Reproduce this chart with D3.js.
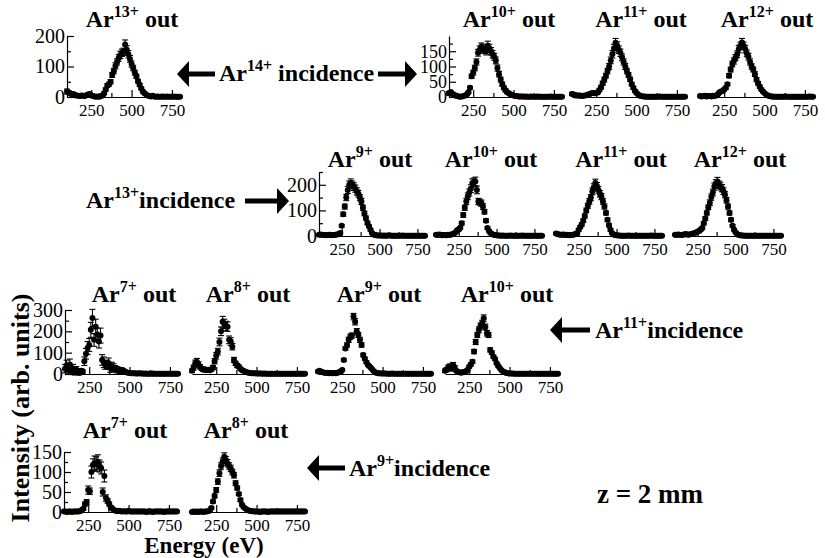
<!DOCTYPE html>
<html><head><meta charset="utf-8">
<script src="https://cdn.jsdelivr.net/npm/d3@7"></script>
<style>
body{margin:0;background:#fff}
svg text{font-family:'Liberation Serif','Times New Roman','DejaVu Serif',serif;fill:#000}
</style>
</head><body>
<svg id="c" width="825" height="558"></svg>
<script>
// ---------------- DATA ----------------
const energy = [100,110,120,130,140,150,160,170,180,190,
 200,210,220,230,240,250,260,270,280,290,
 300,310,320,330,340,350,360,370,380,390,
 400,410,420,430,440,450,460,470,480,490,
 500,510,520,530,540,550,560,570,580,590,
 600,610,620,630,640,650,660,670,680,690,
 700,710,720,730,740,750,760,770,780,790,
 800];
const xTickLabels = [250,500,750];
const xMinorTicks = [375,625];

// Ar14+ incidence
const in14_out13 = [18,15,12,8,10,6,5,4,3,5, 4,3,6,8,10,6,3,2,1,2, 1,3,5,12,25,38,42,50,72,85, 102,115,128,138,145,148,172,155,140,125, 108,95,80,68,52,40,28,18,12,8, 5,3,2,4,2,1,2,1,1,2, 1,1,2,1,1,1,2,1,1,1, 1];
const in14_out13_err = [8,6,5,4,4,3,3,3,3,3, 3,3,3,3,4,3,2,2,2,2, 2,2,3,4,5,6,6,7,8,9, 10,10,11,12,12,12,15,13,12,11, 10,9,8,7,6,5,4,4,3,3, 3,2,2,2,2,2,2,2,2,2, 2,2,2,2,2,2,2,2,2,2, 2];
const in14_out10 = [12,15,10,8,5,3,2,1,2,3, 5,8,15,30,68,80,95,115,145,155, 165,160,155,150,168,160,150,140,132,120, 95,75,57,42,30,22,16,12,9,7, 5,3,3,2,2,2,2,1,2,1, 1,2,1,1,1,2,1,1,1,1, 1,1,1,2,1,1,1,1,1,1, 1];
const in14_out10_err = [6,6,5,4,3,3,2,2,2,2, 3,3,4,5,7,8,9,10,11,12, 12,13,12,12,15,13,12,12,11,11, 10,9,8,7,6,5,5,4,4,3, 3,3,2,2,2,2,2,2,2,2, 2,2,2,2,2,2,2,2,2,2, 2,2,2,2,2,2,2,2,2,2, 2];
const in14_out11 = [10,8,5,6,4,5,3,4,5,6, 8,10,12,13,12,14,15,23,32,45, 57,70,85,100,120,140,160,178,168,155, 145,130,115,100,85,72,58,42,30,20, 13,8,4,3,2,2,1,1,1,1, 1,1,1,1,2,1,1,1,1,1, 1,1,1,1,1,1,1,1,1,1, 1];
const in14_out11_err = [5,4,3,3,3,3,2,3,3,3, 3,4,4,4,4,4,4,5,6,7, 8,8,9,10,11,12,13,14,13,12, 12,11,10,10,9,8,7,6,5,4, 3,3,2,2,2,2,2,2,2,2, 2,2,2,2,2,2,2,2,2,2, 2,2,2,2,2,2,2,2,2,2, 2];
const in14_out12 = [3,2,3,4,2,3,3,2,4,3, 5,8,15,18,20,25,30,42,70,90, 108,118,129,140,157,168,179,168,157,143, 132,115,100,90,75,57,45,34,25,18, 12,8,5,3,2,2,1,1,1,1, 1,1,1,2,1,1,1,1,1,1, 1,1,1,1,1,1,1,1,2,1, 1];
const in14_out12_err = [2,2,2,2,2,2,2,2,2,2, 3,3,4,4,4,4,5,5,7,8, 9,10,10,11,12,12,13,12,12,11, 11,10,9,8,8,7,6,5,4,4, 3,3,2,2,2,2,2,2,2,2, 2,2,2,2,2,2,2,2,2,2, 2,2,2,2,2,2,2,2,2,2, 2];

// Ar13+ incidence
const in13_out9 = [5,6,5,4,4,3,4,5,3,4, 4,5,6,8,12,40,85,115,150,180, 200,207,200,193,185,174,165,150,135,110, 88,70,51,38,24,12,6,4,3,2, 2,2,1,2,1,1,3,2,1,1, 1,1,1,1,1,2,1,1,1,1, 1,1,1,1,1,1,1,1,1,1, 1];
const in13_out9_err = [3,3,3,3,3,2,3,3,2,3, 3,3,3,3,4,5,8,10,12,14, 15,16,15,15,14,14,13,12,12,10, 9,8,7,5,4,4,3,2,2,2, 2,2,2,2,2,2,2,2,2,2, 2,2,2,2,2,2,2,2,2,2, 2,2,2,2,2,2,2,2,2,2, 2];
const in13_out10 = [5,4,6,5,3,4,4,3,5,4, 6,8,10,15,22,25,32,50,82,110, 135,155,170,185,207,210,213,180,135,132, 128,115,95,60,31,20,12,8,5,4, 3,2,2,1,2,1,1,1,1,2, 1,1,1,1,1,1,1,2,1,1, 1,1,1,1,1,1,1,1,1,1, 1];
const in13_out10_err = [3,3,3,3,2,3,3,2,3,3, 3,3,4,4,5,5,5,7,9,10, 12,13,14,15,16,16,17,15,12,12, 12,11,9,7,5,4,4,3,2,2, 2,2,2,2,2,2,2,2,2,2, 2,2,2,2,2,2,2,2,2,2, 2,2,2,2,2,2,2,2,2,2, 2];
const in13_out11 = [10,8,6,5,5,6,4,5,4,3, 4,5,6,8,12,24,35,45,60,78, 100,118,135,150,174,190,207,195,180,165, 154,135,115,90,63,42,24,12,6,4, 3,2,2,1,1,1,1,1,2,1, 1,1,1,1,1,1,1,1,1,1, 1,1,1,2,1,1,1,1,1,1, 1];
const in13_out11_err = [4,4,3,3,3,3,3,3,3,2, 3,3,3,3,4,5,5,6,7,8, 9,10,11,12,13,14,15,14,13,13, 12,11,10,8,7,6,5,4,3,2, 2,2,2,2,2,2,2,2,2,2, 2,2,2,2,2,2,2,2,2,2, 2,2,2,2,2,2,2,2,2,2, 2];
const in13_out12 = [5,4,6,5,4,5,6,8,6,5, 7,8,10,12,14,18,20,25,31,50, 68,90,112,130,152,170,193,205,213,200, 195,187,175,161,140,115,90,63,40,24, 15,8,4,3,2,2,1,1,1,1, 1,1,1,1,1,1,1,1,1,1, 1,1,1,1,1,1,1,1,1,1, 1];
const in13_out12_err = [3,3,3,3,3,3,3,4,3,3, 3,4,4,4,4,4,4,5,5,6, 7,8,9,11,12,13,14,15,16,15, 15,14,13,12,11,10,8,7,5,4, 3,3,2,2,2,2,2,2,2,2, 2,2,2,2,2,2,2,2,2,2, 2,2,2,2,2,2,2,2,2,2, 2];

// Ar11+ incidence
const in11_out7 = [25,40,20,45,15,25,10,20,8,5, 15,10,60,95,122,136,207,263,160,222, 185,152,180,66,55,42,45,50,28,35, 30,25,20,20,15,18,15,10,8,6, 5,4,3,3,2,2,3,2,2,1, 2,1,1,1,2,1,1,1,1,1, 1,1,1,1,1,1,1,1,1,1, 1];
const in11_out7_err = [20,25,20,25,15,20,15,15,10,8, 10,10,20,25,30,30,35,40,30,35, 30,30,35,25,25,20,20,25,20,20, 18,15,15,12,12,12,10,8,6,5, 4,4,3,3,2,2,3,2,2,2, 2,2,2,2,2,2,2,2,2,2, 2,2,2,2,2,2,2,2,2,2, 2];
const in11_out8 = [15,30,50,58,45,34,25,20,22,18, 20,18,22,30,60,85,105,150,200,245, 235,225,222,160,152,128,66,50,40,34, 25,18,15,10,8,6,5,4,3,3, 2,2,2,2,1,2,1,1,1,1, 1,1,1,1,1,1,1,1,1,1, 1,1,1,1,1,1,1,1,1,1, 1];
const in11_out8_err = [8,12,15,15,12,10,8,8,8,8, 8,8,8,10,12,15,15,18,20,25, 22,22,22,18,18,15,12,10,10,8, 6,5,5,4,3,3,3,2,2,2, 2,2,2,2,2,2,2,2,2,2, 2,2,2,2,2,2,2,2,2,2, 2,2,2,2,2,2,2,2,2,2, 2];
const in11_out9 = [12,15,10,8,6,5,6,4,5,4, 5,4,6,8,12,19,66,120,136,160, 175,180,269,245,200,183,160,136,89,72, 55,42,35,27,18,10,6,4,3,2, 2,2,2,1,1,1,2,1,1,1, 1,1,1,1,1,1,1,1,1,1, 1,1,1,1,1,1,1,1,1,1, 1];
const in11_out9_err = [6,6,5,4,4,3,3,3,3,3, 3,3,3,3,4,4,6,8,10,12, 12,12,15,15,13,12,12,10,8,7, 6,5,5,4,3,3,2,2,2,2, 2,2,2,2,2,2,2,2,2,2, 2,2,2,2,2,2,2,2,2,2, 2,2,2,2,2,2,2,2,2,2, 2];
const in11_out10 = [15,20,30,35,25,42,30,15,10,8, 6,8,10,12,20,34,45,58,105,150, 183,207,225,238,261,220,191,183,113,100, 81,70,50,38,27,18,12,8,5,3, 2,2,2,1,1,1,1,1,1,1, 1,1,1,1,1,1,1,1,1,1, 1,1,1,1,1,1,1,1,1,1, 1];
const in11_out10_err = [8,10,12,12,10,12,10,6,5,4, 3,3,4,4,5,6,7,8,10,12, 12,14,14,14,16,14,13,12,10,8, 7,6,5,5,4,3,3,2,2,2, 2,2,2,2,2,2,2,2,2,2, 2,2,2,2,2,2,2,2,2,2, 2,2,2,2,2,2,2,2,2,2, 2];

// Ar9+ incidence
const in9_out7 = [1,1,0,1,1,0,1,1,1,1, 2,5,8,20,25,55,52,100,118,122, 120,125,115,110,50,90,35,28,20,12, 8,5,3,2,3,2,1,2,1,1, 3,1,1,1,1,1,1,1,1,1, 1,0,1,1,1,0,1,1,1,1, 1,1,0,1,1,1,1,1,1,1, 1];
const in9_out7_err = [1,1,1,1,1,1,1,1,1,1, 1,2,3,5,6,10,8,15,15,18, 18,18,15,15,10,15,8,6,5,4, 3,2,2,2,2,2,1,1,1,1, 1,1,1,1,1,1,1,1,1,1, 1,1,1,1,1,1,1,1,1,1, 1,1,1,1,1,1,1,1,1,1, 1];
const in9_out8 = [0,1,0,1,0,1,1,0,1,1, 2,4,10,26,40,55,76,97,115,126, 138,130,122,115,109,100,92,72,60,45, 30,18,12,9,6,4,3,2,2,1, 1,1,0,1,1,1,1,0,1,1, 1,1,1,1,1,1,1,1,1,1, 1,1,1,1,1,1,1,1,1,1, 1];
const in9_out8_err = [1,1,1,1,1,1,1,1,1,1, 1,2,3,4,5,6,7,8,8,9, 10,9,9,8,8,7,7,6,5,4, 4,3,2,2,2,1,1,1,1,1, 1,1,1,1,1,1,1,1,1,1, 1,1,1,1,1,1,1,1,1,1, 1,1,1,1,1,1,1,1,1,1, 1];

// ---------------- LAYOUT ----------------
const rows = [
  {y0:97,  yTop:36,  max:200},
  {y0:236, yTop:172, max:250},
  {y0:374, yTop:310, max:300},
  {y0:512, yTop:452, max:150}
];
const panels = [
  {row:0,left:67, width:113,ch:"13+",v:in14_out13,e:in14_out13_err,yTicks:[0,100,200],yMinor:[50,150],tx:65,yfs:20},
  {row:0,left:449,width:113,ch:"10+",v:in14_out10,e:in14_out10_err,yTicks:[0,50,100,150],yMinor:[25,75,125,175],tx:60,yfs:18},
  {row:0,left:572,width:113,ch:"11+",v:in14_out11,e:in14_out11_err,tx:69},
  {row:0,left:700,width:113,ch:"12+",v:in14_out12,e:in14_out12_err,tx:67},
  {row:1,left:319,width:106,ch:"9+", v:in13_out9, e:in13_out9_err, yTicks:[0,100,200],yMinor:[50,150,250],tx:51,yfs:20},
  {row:1,left:436,width:106,ch:"10+",v:in13_out10,e:in13_out10_err,tx:55},
  {row:1,left:556,width:106,ch:"11+",v:in13_out11,e:in13_out11_err,tx:65},
  {row:1,left:675,width:106,ch:"12+",v:in13_out12,e:in13_out12_err,tx:65},
  {row:2,left:65, width:113,ch:"7+", v:in11_out7, e:in11_out7_err, yTicks:[0,100,200,300],yMinor:[50,150,250],tx:69,yfs:20},
  {row:2,left:192,width:113,ch:"8+", v:in11_out8, e:in11_out8_err, tx:56},
  {row:2,left:318,width:113,ch:"9+", v:in11_out9, e:in11_out9_err, tx:61},
  {row:2,left:445,width:113,ch:"10+",v:in11_out10,e:in11_out10_err,tx:62},
  {row:3,left:64, width:113,ch:"7+", v:in9_out7, e:in9_out7_err, yTicks:[0,50,100,150],yMinor:[25,75,125],tx:61,yfs:20},
  {row:3,left:192,width:113,ch:"8+", v:in9_out8, e:in9_out8_err, tx:54}
];
const titleBase = [27,167,302,438];

const svg = d3.select("#c");
const FONT = "'Liberation Serif','Times New Roman','DejaVu Serif',serif";

function styleAxis(sel, size){
  sel.attr("font-family", null).attr("font-size", size);
  sel.selectAll("text").attr("fill","#000").style("font-family", FONT);
  sel.selectAll("path,line").attr("stroke","#000").attr("stroke-width",1.2);
}

panels.forEach(p => {
  const r = rows[p.row];
  const x = d3.scaleLinear().domain([100,800]).range([p.left, p.left + p.width]);
  const y = d3.scaleLinear().domain([0, r.max]).range([r.y0, r.yTop]);
  const g = svg.append("g");

  const xa = g.append("g").attr("transform", `translate(0,${r.y0})`)
    .call(d3.axisBottom(x).tickValues(xTickLabels).tickSize(-7).tickSizeOuter(0).tickPadding(7).tickFormat(d3.format("d")));
  styleAxis(xa, 17);
  const xm = g.append("g").attr("transform", `translate(0,${r.y0})`)
    .call(d3.axisBottom(x).tickValues(xMinorTicks).tickSize(-4).tickFormat(""));
  xm.select(".domain").remove();
  styleAxis(xm, 17);

  if (p.yTicks) {
    const ya = g.append("g").attr("transform", `translate(${p.left},0)`)
      .call(d3.axisLeft(y).tickValues(p.yTicks).tickSize(-7).tickSizeOuter(0).tickPadding(2).tickFormat(d3.format("d")));
    styleAxis(ya, p.yfs);
    const ym = g.append("g").attr("transform", `translate(${p.left},0)`)
      .call(d3.axisLeft(y).tickValues(p.yMinor).tickSize(-4).tickFormat(""));
    ym.select(".domain").remove();
    styleAxis(ym, p.yfs);
  }

  const pts = energy.map((e, i) => ({e: e, v: p.v[i], s: p.e[i]}));
  const eb = g.append("g").attr("stroke", "#000").attr("stroke-width", 1.1);
  pts.forEach(d => {
    const cx = x(d.e), yh = y(d.v + d.s), yl = y(d.v - d.s);
    eb.append("line").attr("x1", cx).attr("x2", cx).attr("y1", yh).attr("y2", yl);
    eb.append("line").attr("x1", cx - 3).attr("x2", cx + 3).attr("y1", yh).attr("y2", yh);
    eb.append("line").attr("x1", cx - 3).attr("x2", cx + 3).attr("y1", yl).attr("y2", yl);
  });
  g.append("g").selectAll("circle").data(pts).join("circle")
    .attr("cx", d => x(d.e)).attr("cy", d => y(d.v)).attr("r", 3).attr("fill", "#000");

  const t = g.append("text").attr("x", p.left + p.tx).attr("y", titleBase[p.row])
    .attr("text-anchor", "middle").attr("font-weight", "bold").attr("font-size", 24)
    .style("font-family", FONT);
  t.append("tspan").text("Ar");
  t.append("tspan").attr("dy", -10).attr("font-size", 16).text(p.ch);
  t.append("tspan").attr("dy", 10).text(" out");
});

// ---------------- ANNOTATIONS ----------------
function arrow(tipX, tailX, cy) {
  const dir = tipX > tailX ? 1 : -1;
  const headLen = 12, half = 13, sh = 2.6;
  const bx = tipX - dir * headLen;
  const path = `M${tailX},${cy - sh} L${bx},${cy - sh} L${bx},${cy - half} L${tipX},${cy} L${bx},${cy + half} L${bx},${cy + sh} L${tailX},${cy + sh} Z`;
  svg.append("path").attr("d", path).attr("fill", "#000");
}
function incidence(xs, base, ch, space) {
  const t = svg.append("text").attr("x", xs).attr("y", base)
    .attr("font-weight", "bold").attr("font-size", 24).style("font-family", FONT);
  t.append("tspan").text("Ar");
  t.append("tspan").attr("dy", -10).attr("font-size", 16).text(ch);
  t.append("tspan").attr("dy", 10).text(space ? " incidence" : "incidence");
}
arrow(177, 215, 74);
arrow(417, 378, 74);
incidence(219, 81, "14+", true);

arrow(289, 245, 201);
incidence(86, 208, "13+", false);

arrow(550, 590, 330);
incidence(595, 338, "11+", false);

arrow(307, 345, 468);
incidence(349, 476, "9+", false);

svg.append("text").attr("x", 597).attr("y", 503).attr("font-weight", "bold")
  .attr("font-size", 27).style("font-family", FONT).text("z = 2 mm");

svg.append("text").attr("transform", "translate(29,408) rotate(-90)")
  .attr("text-anchor", "middle").attr("font-weight", "bold").attr("font-size", 26)
  .style("font-family", FONT).text("Intensity (arb. units)");

svg.append("text").attr("x", 204).attr("y", 553).attr("text-anchor", "middle")
  .attr("font-weight", "bold").attr("font-size", 23).style("font-family", FONT).text("Energy (eV)");
</script>
</body></html>
